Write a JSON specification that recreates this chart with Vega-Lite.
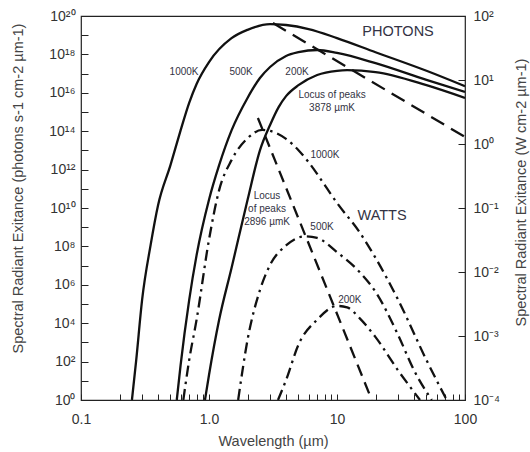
{
  "$schema": "https://vega.github.io/schema/vega-lite/v6.json",
  "width": 384,
  "height": 384,
  "autosize": "none",
  "padding": {"left": 81, "top": 16, "right": 65, "bottom": 52},
  "background": "white",
  "config": {
    "view": {"stroke": "#222", "strokeWidth": 1.2},
    "font": "Liberation Sans",
    "axis": {
      "grid": false,
      "domain": false,
      "tickColor": "#222",
      "tickWidth": 1,
      "labelColor": "#333",
      "labelFont": "Liberation Sans",
      "labelFontSize": 14,
      "labelFlush": false,
      "labelOverlap": false,
      "titleFont": "Liberation Sans",
      "titleFontSize": 14.5,
      "titleFontWeight": "normal",
      "titleColor": "#444"
    }
  },
  "datasets": {
    "photon_curves": [
      {"series": "1000K", "lam": 0.25, "val": 1},
      {"series": "1000K", "lam": 0.27, "val": 1.2e2},
      {"series": "1000K", "lam": 0.3, "val": 1.6e5},
      {"series": "1000K", "lam": 0.35, "val": 1.2e8},
      {"series": "1000K", "lam": 0.4, "val": 1.4e10},
      {"series": "1000K", "lam": 0.5, "val": 1.7e12},
      {"series": "1000K", "lam": 0.6, "val": 1.1e14},
      {"series": "1000K", "lam": 0.7, "val": 3e15},
      {"series": "1000K", "lam": 0.8, "val": 2.9e16},
      {"series": "1000K", "lam": 1, "val": 4e17},
      {"series": "1000K", "lam": 1.5, "val": 7e18},
      {"series": "1000K", "lam": 2, "val": 1.9e19},
      {"series": "1000K", "lam": 3, "val": 3.8e19},
      {"series": "1000K", "lam": 4, "val": 3.4e19},
      {"series": "1000K", "lam": 6, "val": 2.1e19},
      {"series": "1000K", "lam": 10, "val": 7.1e18},
      {"series": "1000K", "lam": 20, "val": 1.3e18},
      {"series": "1000K", "lam": 50, "val": 1.4e17},
      {"series": "1000K", "lam": 100, "val": 2.2e16},
      {"series": "500K", "lam": 0.56, "val": 1},
      {"series": "500K", "lam": 0.6, "val": 66},
      {"series": "500K", "lam": 0.7, "val": 1.6e5},
      {"series": "500K", "lam": 0.8, "val": 3.5e7},
      {"series": "500K", "lam": 1, "val": 2.7e10},
      {"series": "500K", "lam": 1.2, "val": 1.7e12},
      {"series": "500K", "lam": 1.5, "val": 1.1e14},
      {"series": "500K", "lam": 2, "val": 5.4e15},
      {"series": "500K", "lam": 2.5, "val": 5.9e16},
      {"series": "500K", "lam": 3, "val": 2.2e17},
      {"series": "500K", "lam": 4, "val": 8.3e17},
      {"series": "500K", "lam": 5, "val": 1.3e18},
      {"series": "500K", "lam": 7, "val": 1.7e18},
      {"series": "500K", "lam": 10, "val": 1.2e18},
      {"series": "500K", "lam": 20, "val": 3.5e17},
      {"series": "500K", "lam": 50, "val": 4.7e16},
      {"series": "500K", "lam": 100, "val": 1.1e16},
      {"series": "200K", "lam": 0.93, "val": 1},
      {"series": "200K", "lam": 1, "val": 20},
      {"series": "200K", "lam": 1.2, "val": 1.5e4},
      {"series": "200K", "lam": 1.5, "val": 7.5e6},
      {"series": "200K", "lam": 2, "val": 2.6e10},
      {"series": "200K", "lam": 2.5, "val": 1e13},
      {"series": "200K", "lam": 3, "val": 2.1e14},
      {"series": "200K", "lam": 3.5, "val": 1.8e15},
      {"series": "200K", "lam": 4, "val": 6.7e15},
      {"series": "200K", "lam": 5, "val": 2.5e16},
      {"series": "200K", "lam": 7, "val": 8.5e16},
      {"series": "200K", "lam": 10, "val": 1.4e17},
      {"series": "200K", "lam": 12, "val": 1.5e17},
      {"series": "200K", "lam": 20, "val": 1.2e17},
      {"series": "200K", "lam": 50, "val": 2.5e16},
      {"series": "200K", "lam": 100, "val": 5.4e15}
    ],
    "photon_locus": [
      {"lam": 3.16, "val": 4.3e19},
      {"lam": 100, "val": 5e13}
    ],
    "watt_curves": [
      {"series": "1000K", "lam": 0.63, "val": 1e-4},
      {"series": "1000K", "lam": 0.7, "val": 4.2e-4},
      {"series": "1000K", "lam": 0.8, "val": 1.8e-3},
      {"series": "1000K", "lam": 1, "val": 3.2e-2},
      {"series": "1000K", "lam": 1.2, "val": 0.19},
      {"series": "1000K", "lam": 1.5, "val": 0.56},
      {"series": "1000K", "lam": 2, "val": 1.23},
      {"series": "1000K", "lam": 2.6, "val": 1.66},
      {"series": "1000K", "lam": 3, "val": 1.6},
      {"series": "1000K", "lam": 4, "val": 1.2},
      {"series": "1000K", "lam": 5, "val": 0.8},
      {"series": "1000K", "lam": 6, "val": 0.52},
      {"series": "1000K", "lam": 8, "val": 0.23},
      {"series": "1000K", "lam": 10, "val": 0.12},
      {"series": "1000K", "lam": 15, "val": 0.042},
      {"series": "1000K", "lam": 20, "val": 0.0166},
      {"series": "1000K", "lam": 30, "val": 0.0037},
      {"series": "1000K", "lam": 50, "val": 4.2e-4},
      {"series": "1000K", "lam": 72, "val": 1e-4},
      {"series": "500K", "lam": 1.69, "val": 1e-4},
      {"series": "500K", "lam": 2, "val": 8.7e-4},
      {"series": "500K", "lam": 2.5, "val": 5.2e-3},
      {"series": "500K", "lam": 3, "val": 0.0129},
      {"series": "500K", "lam": 4, "val": 0.026},
      {"series": "500K", "lam": 5.6, "val": 0.036},
      {"series": "500K", "lam": 7, "val": 0.034},
      {"series": "500K", "lam": 10, "val": 0.0204},
      {"series": "500K", "lam": 15, "val": 0.01},
      {"series": "500K", "lam": 20, "val": 0.0049},
      {"series": "500K", "lam": 30, "val": 1.04e-3},
      {"series": "500K", "lam": 40, "val": 2.9e-4},
      {"series": "500K", "lam": 55, "val": 1e-4},
      {"series": "200K", "lam": 3.46, "val": 1e-4},
      {"series": "200K", "lam": 4, "val": 2.05e-4},
      {"series": "200K", "lam": 5, "val": 7.3e-4},
      {"series": "200K", "lam": 7, "val": 1.8e-3},
      {"series": "200K", "lam": 10, "val": 2.95e-3},
      {"series": "200K", "lam": 12, "val": 2.8e-3},
      {"series": "200K", "lam": 15, "val": 1.9e-3},
      {"series": "200K", "lam": 20, "val": 9.6e-4},
      {"series": "200K", "lam": 30, "val": 2.9e-4},
      {"series": "200K", "lam": 44.5, "val": 1e-4}
    ],
    "watt_locus": [
      {"lam": 2.41, "val": 2.55},
      {"lam": 18.7, "val": 1e-4}
    ],
    "photon_titles": [
      {"text": "PHOTONS", "lam": 30, "val": 1.5e19}
    ],
    "photon_notes": [
      {"text": "1000K", "lam": 0.638, "val": 1.2e17},
      {"text": "500K", "lam": 1.78, "val": 1.2e17},
      {"text": "200K", "lam": 4.87, "val": 1.2e17},
      {"text": "Locus of peaks", "lam": 9.14, "val": 7.7e15},
      {"text": "3878 µmK", "lam": 9.14, "val": 1.6e15}
    ],
    "watt_titles": [
      {"text": "WATTS", "lam": 22.5, "val": 0.075}
    ],
    "watt_notes": [
      {"text": "1000K", "lam": 8.05, "val": 0.67},
      {"text": "Locus", "lam": 2.84, "val": 0.154},
      {"text": "of peaks", "lam": 2.84, "val": 0.0964},
      {"text": "2896 µmK", "lam": 2.84, "val": 0.06},
      {"text": "500K", "lam": 7.64, "val": 0.0505},
      {"text": "200K", "lam": 12.6, "val": 3.65e-3}
    ]
  },
  "encoding": {
    "x": {
      "field": "lam",
      "type": "quantitative",
      "scale": {"type": "log", "domain": [0.1, 100], "nice": false},
      "axis": {
        "orient": "bottom",
        "title": "Wavelength (µm)",
        "values": [0.1, 0.2, 0.3, 0.4, 0.5, 0.6, 0.7, 0.8, 0.9, 1, 2, 3, 4, 5, 6, 7, 8, 9, 10, 20, 30, 40, 50, 60, 70, 80, 90, 100],
        "labelExpr": "datum.value == 0.1 ? '0.1' : datum.value == 1 ? '1.0' : datum.value == 10 ? '10' : datum.value == 100 ? '100' : ''",
        "tickSize": -6,
        "labelPadding": 18,
        "titleX": 192,
        "titleY": 41,
        "titleBaseline": "middle"
      }
    }
  },
  "layer": [
    {
      "encoding": {
        "y": {
          "field": "val",
          "type": "quantitative",
          "scale": {"type": "log", "domain": [1, 1e20], "nice": false},
          "axis": {
            "orient": "left",
            "title": "Spectral Radiant Exitance (photons s-1 cm-2 µm-1)",
            "values": [1, 1e1, 1e2, 1e3, 1e4, 1e5, 1e6, 1e7, 1e8, 1e9, 1e10, 1e11, 1e12, 1e13, 1e14, 1e15, 1e16, 1e17, 1e18, 1e19, 1e20],
            "labelExpr": "round(log(datum.value)/LN10) % 2 != 0 ? '' : '10' + (round(log(datum.value)/LN10) >= 10 ? ['⁰','¹','²','³','⁴','⁵','⁶','⁷','⁸','⁹'][floor(round(log(datum.value)/LN10)/10)] : '') + ['⁰','¹','²','³','⁴','⁵','⁶','⁷','⁸','⁹'][round(log(datum.value)/LN10) % 10]",
            "tickSize": -7,
            "labelPadding": 13,
            "titleAngle": -90,
            "titleX": -63,
            "titleY": 172,
            "titleAlign": "center",
            "titleBaseline": "middle"
          }
        }
      },
      "layer": [
        {
          "data": {"name": "photon_curves"},
          "mark": {"type": "line", "color": "#111", "strokeWidth": 2.3, "interpolate": "monotone", "clip": true},
          "encoding": {"detail": {"field": "series"}}
        },
        {
          "data": {"name": "photon_locus"},
          "mark": {"type": "line", "color": "#111", "strokeWidth": 2.3, "strokeDash": [15, 8], "clip": true},
          "encoding": {}
        },
        {
          "data": {"name": "photon_titles"},
          "mark": {"type": "text", "fontSize": 14.5, "color": "#333344", "align": "center", "baseline": "middle"},
          "encoding": {"text": {"field": "text"}}
        },
        {
          "data": {"name": "photon_notes"},
          "mark": {"type": "text", "fontSize": 10, "color": "#333344", "align": "center", "baseline": "middle"},
          "encoding": {"text": {"field": "text"}}
        }
      ]
    },
    {
      "encoding": {
        "y": {
          "field": "val",
          "type": "quantitative",
          "scale": {"type": "log", "domain": [1e-4, 100], "nice": false},
          "axis": {
            "orient": "right",
            "title": "Spectral Radiant Exitance (W cm-2 µm-1)",
            "values": [1e-4, 1e-3, 1e-2, 1e-1, 1, 10, 100],
            "labelExpr": "'10' + (round(log(datum.value)/LN10) < 0 ? '⁻' : '') + ['⁰','¹','²','³','⁴','⁵','⁶','⁷','⁸','⁹'][abs(round(log(datum.value)/LN10))]",
            "tickSize": -7,
            "labelPadding": 15,
            "titleAngle": -90,
            "titleX": 56,
            "titleY": 176,
            "titleAlign": "center",
            "titleBaseline": "middle"
          }
        }
      },
      "layer": [
        {
          "data": {"name": "watt_curves"},
          "mark": {"type": "line", "color": "#111", "strokeWidth": 2.3, "strokeDash": [11, 5, 2.5, 5], "interpolate": "monotone", "clip": true},
          "encoding": {"detail": {"field": "series"}}
        },
        {
          "data": {"name": "watt_locus"},
          "mark": {"type": "line", "color": "#111", "strokeWidth": 2.3, "strokeDash": [12, 7], "clip": true},
          "encoding": {}
        },
        {
          "data": {"name": "watt_titles"},
          "mark": {"type": "text", "fontSize": 14.5, "color": "#333344", "align": "center", "baseline": "middle"},
          "encoding": {"text": {"field": "text"}}
        },
        {
          "data": {"name": "watt_notes"},
          "mark": {"type": "text", "fontSize": 10, "color": "#333344", "align": "center", "baseline": "middle"},
          "encoding": {"text": {"field": "text"}}
        }
      ]
    }
  ],
  "resolve": {"scale": {"y": "independent"}, "axis": {"y": "independent"}}
}
